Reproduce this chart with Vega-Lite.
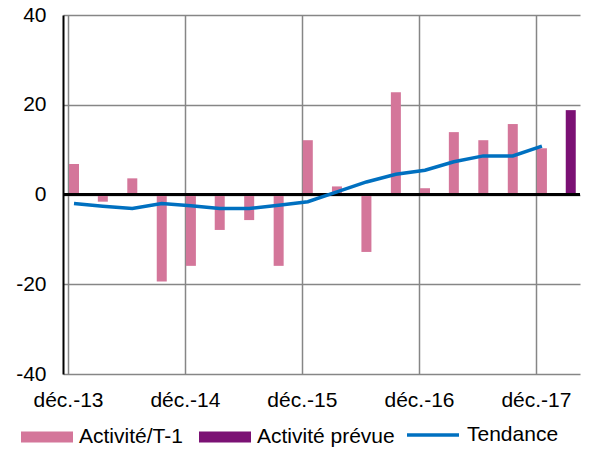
{
  "$schema": "https://vega.github.io/schema/vega-lite/v6.json",
  "autosize": "none",
  "width": 517,
  "height": 359,
  "padding": {"left": 63, "top": 15, "right": 9, "bottom": 75},
  "background": "white",
  "config": {
    "view": {"stroke": null},
    "font": "Liberation Sans",
    "axis": {"labelFont": "Liberation Sans", "labelFontSize": 21, "labelColor": "black", "ticks": false, "title": null},
    "legend": {"labelFont": "Liberation Sans", "labelFontSize": 21, "labelColor": "black"}
  },
  "data": {
    "values": [
      {"date": "2013-12-01", "series": "Activité/T-1", "value": 6.8},
      {"date": "2014-03-01", "series": "Activité/T-1", "value": -1.6},
      {"date": "2014-06-01", "series": "Activité/T-1", "value": 3.6},
      {"date": "2014-09-01", "series": "Activité/T-1", "value": -19.4},
      {"date": "2014-12-01", "series": "Activité/T-1", "value": -15.9},
      {"date": "2015-03-01", "series": "Activité/T-1", "value": -7.9},
      {"date": "2015-06-01", "series": "Activité/T-1", "value": -5.7},
      {"date": "2015-09-01", "series": "Activité/T-1", "value": -15.9},
      {"date": "2015-12-01", "series": "Activité/T-1", "value": 12.1},
      {"date": "2016-03-01", "series": "Activité/T-1", "value": 1.8},
      {"date": "2016-06-01", "series": "Activité/T-1", "value": -12.8},
      {"date": "2016-09-01", "series": "Activité/T-1", "value": 22.8},
      {"date": "2016-12-01", "series": "Activité/T-1", "value": 1.4},
      {"date": "2017-03-01", "series": "Activité/T-1", "value": 13.9},
      {"date": "2017-06-01", "series": "Activité/T-1", "value": 12.1},
      {"date": "2017-09-01", "series": "Activité/T-1", "value": 15.7},
      {"date": "2017-12-01", "series": "Activité/T-1", "value": 10.3},
      {"date": "2018-03-01", "series": "Activité prévue", "value": 18.8},
      {"date": "2013-12-01", "series": "Tendance", "value": -2.0},
      {"date": "2014-03-01", "series": "Tendance", "value": -2.6},
      {"date": "2014-06-01", "series": "Tendance", "value": -3.1},
      {"date": "2014-09-01", "series": "Tendance", "value": -2.0},
      {"date": "2014-12-01", "series": "Tendance", "value": -2.5},
      {"date": "2015-03-01", "series": "Tendance", "value": -3.1},
      {"date": "2015-06-01", "series": "Tendance", "value": -3.1},
      {"date": "2015-09-01", "series": "Tendance", "value": -2.4},
      {"date": "2015-12-01", "series": "Tendance", "value": -1.6},
      {"date": "2016-03-01", "series": "Tendance", "value": 0.6},
      {"date": "2016-06-01", "series": "Tendance", "value": 2.8},
      {"date": "2016-09-01", "series": "Tendance", "value": 4.5},
      {"date": "2016-12-01", "series": "Tendance", "value": 5.4},
      {"date": "2017-03-01", "series": "Tendance", "value": 7.3},
      {"date": "2017-06-01", "series": "Tendance", "value": 8.6},
      {"date": "2017-09-01", "series": "Tendance", "value": 8.6},
      {"date": "2017-12-01", "series": "Tendance", "value": 10.8}
    ]
  },
  "encoding": {
    "x": {
      "field": "date", "type": "temporal",
      "scale": {"type": "utc", "domain": [{"year": 2013, "month": 12, "date": 1, "utc": true}, {"year": 2018, "month": 4, "date": 2, "utc": true}]},
      "axis": {
        "values": [
          {"year": 2013, "month": 12, "date": 1, "utc": true},
          {"year": 2014, "month": 12, "date": 1, "utc": true},
          {"year": 2015, "month": 12, "date": 1, "utc": true},
          {"year": 2016, "month": 12, "date": 1, "utc": true},
          {"year": 2017, "month": 12, "date": 1, "utc": true}
        ],
        "labelExpr": "'déc.-' + utcFormat(datum.value, '%y')",
        "domain": false,
        "grid": true, "gridColor": "#868686", "gridWidth": 1.5,
        "labelPadding": 15, "labelDx": 6, "labelFlush": false, "labelOverlap": false
      }
    },
    "y": {
      "field": "value", "type": "quantitative",
      "scale": {"domain": [-40, 40], "nice": false},
      "axis": {
        "values": [-40, -20, 0, 20, 40],
        "labelExpr": "datum.value < 0 ? '-' + abs(datum.value) : '' + datum.value",
        "domain": true, "domainColor": "black", "domainWidth": 2,
        "grid": true, "gridColor": "#868686", "gridWidth": 1.5,
        "labelPadding": 17
      }
    }
  },
  "layer": [
    {
      "transform": [{"filter": "datum.series != 'Tendance'"}],
      "mark": {"type": "bar", "size": 10, "xOffset": 6},
      "encoding": {
        "fill": {
          "field": "series", "type": "nominal",
          "scale": {"domain": ["Activité/T-1", "Activité prévue"], "range": ["#D4769A", "#7B1174"]},
          "legend": {
            "title": null, "orient": "none", "direction": "horizontal",
            "legendX": -42, "legendY": 396,
            "symbolType": "M-1,-0.21H1V0.21H-1Z", "symbolSize": 2704, "symbolStrokeWidth": 0,
            "labelOffset": 6, "columnPadding": 16
          }
        }
      }
    },
    {
      "mark": {"type": "rule", "color": "black", "strokeWidth": 2},
      "encoding": {"y": {"datum": 0}, "x": null}
    },
    {
      "transform": [{"filter": "datum.series == 'Tendance'"}],
      "mark": {"type": "line", "strokeWidth": 3.5, "xOffset": 6},
      "encoding": {
        "stroke": {
          "field": "series", "type": "nominal",
          "scale": {"domain": ["Tendance"], "range": ["#0070C0"]},
          "legend": {
            "title": null, "orient": "none", "direction": "horizontal",
            "legendX": 342, "legendY": 392,
            "symbolType": "stroke", "symbolSize": 2704, "symbolStrokeWidth": 3.5,
            "labelOffset": 6
          }
        }
      }
    }
  ]
}
